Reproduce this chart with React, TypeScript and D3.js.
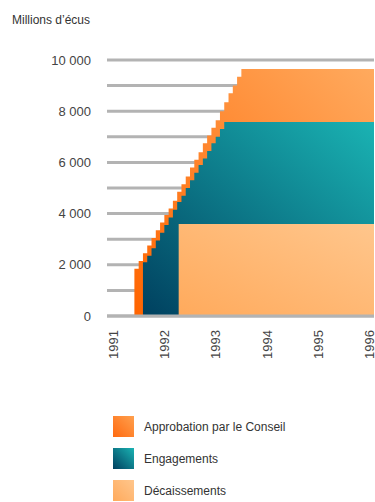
import React from "react";
import * as d3 from "d3";

const W = 375;
const H = 502;

// months counted from January 1991
const END_MONTH = 61;
const yearLabels = ["1991", "1992", "1993", "1994", "1995", "1996"];
const yearMonths = [0, 12, 24, 36, 48, 60];

const yTickValues = [0, 2000, 4000, 6000, 8000, 10000];
const yTickLabels = ["0", "2 000", "4 000", "6 000", "8 000", "10 000"];
const gridValues = [0, 1000, 2000, 3000, 4000, 5000, 6000, 7000, 8000, 9000, 10000];

// Approbation par le Conseil (cumulative, millions d'écus), monthly from month 5
const approvalStart = 5;
const approvalValues = [
  1850, 2150, 2450, 2750, 3050, 3350, 3650, 3950, 4200, 4500, 4850, 5150, 5450,
  5800, 6100, 6400, 6750, 7050, 7350, 7650, 8000, 8350, 8700, 9000, 9350, 9650,
];

// Engagements, monthly from month 7
const engagementStart = 7;
const engagementValues = [
  2100, 2350, 2650, 2950, 3250, 3550, 3850, 4150, 4450, 4700, 5000, 5300, 5600,
  5900, 6150, 6450, 6750, 7000, 7300, 7580,
];

// Décaissements, from month 15
const disbursementStart = 15.35;
const disbursementValues = [3590];

const legendLabels = ["Approbation par le Conseil", "Engagements", "Décaissements"];

const FONT = "'Liberation Sans', Arial, sans-serif";

function toPoints(start: number, values: number[]) {
  const pts = values.map((v, i) => ({ m: start + i, v }));
  pts.push({ m: END_MONTH, v: values[values.length - 1] });
  return pts;
}

export default function App() {
  const x = d3.scaleLinear().domain([0, END_MONTH]).range([113, 374]);
  const y = d3.scaleLinear().domain([0, 10000]).range([316, 60]);

  const area = d3
    .area<{ m: number; v: number }>()
    .x((d) => x(d.m))
    .y0(y(0))
    .y1((d) => y(d.v))
    .curve(d3.curveStepAfter);

  const series = [
    { pts: toPoints(approvalStart, approvalValues), grad: "gA" },
    { pts: toPoints(engagementStart, engagementValues), grad: "gE" },
    { pts: toPoints(disbursementStart, disbursementValues), grad: "gD" },
  ];

  const grads = [
    { id: "gA", c0: "#ff6400", c1: "#ffaa5e" },
    { id: "gE", c0: "#00405f", c1: "#1ab3b3" },
    { id: "gD", c0: "#ffaa5c", c1: "#ffc68c" },
  ];
  const legendGrads = [
    { id: "lA", c0: "#ff6a10", c1: "#ffa04e" },
    { id: "lE", c0: "#00405f", c1: "#1ab3b3" },
    { id: "lD", c0: "#ffaa5c", c1: "#ffc68c" },
  ];

  return (
    <svg
      width={W}
      height={H}
      style={{ position: "absolute", left: 0, top: 0, display: "block" }}
      fontFamily={FONT}
    >
      <defs>
        {grads.concat(legendGrads).map((g) => (
          <linearGradient key={g.id} id={g.id} x1="0" y1="1" x2="1" y2="0">
            <stop offset="0" stopColor={g.c0} />
            <stop offset="1" stopColor={g.c1} />
          </linearGradient>
        ))}
      </defs>
      <rect width={W} height={H} fill="#fff" />
      <text x={12} y={24} fontSize={12} fill="#333">
        Millions d’écus
      </text>
      {gridValues.map((g) => (
        <line key={g} x1={107} x2={374} y1={y(g)} y2={y(g)} stroke="#b3b3b3" strokeWidth={3} />
      ))}
      {yTickValues.map((t, i) => (
        <text
          key={t}
          x={91}
          y={y(t)}
          dy="0.36em"
          textAnchor="end"
          fontSize={13}
          fill="#444"
        >
          {yTickLabels[i]}
        </text>
      ))}
      {series.map((s) => (
        <path key={s.grad} d={area(s.pts) || ""} fill={`url(#${s.grad})`} />
      ))}
      <line x1={107} x2={374} y1={y(0)} y2={y(0)} stroke="#b3b3b3" strokeWidth={3} />
      {yearMonths.map((m, i) => (
        <text
          key={m}
          transform={`translate(${x(m) + 4.7},330) rotate(-90)`}
          textAnchor="end"
          fontSize={13}
          fill="#444"
        >
          {yearLabels[i]}
        </text>
      ))}
      {legendLabels.map((l, i) => (
        <g key={l} transform={`translate(113,${416 + i * 32})`}>
          <rect width={21} height={21} fill={`url(#${legendGrads[i].id})`} />
          <text x={31} y={11} dy="0.36em" fontSize={12} fill="#333">
            {l}
          </text>
        </g>
      ))}
    </svg>
  );
}
